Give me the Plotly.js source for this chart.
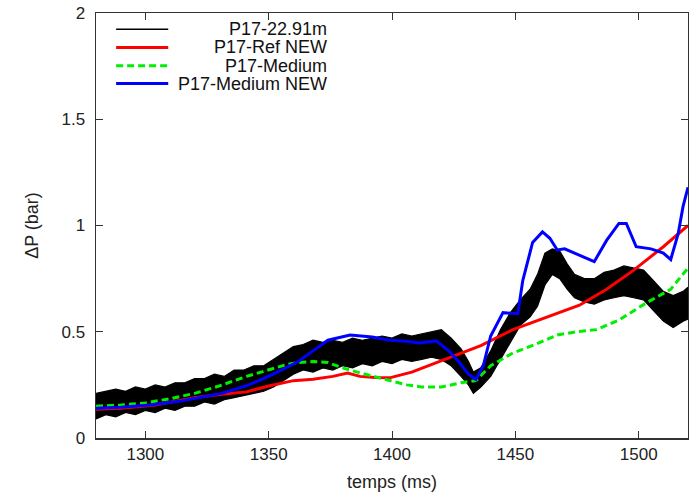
<!DOCTYPE html>
<html>
<head>
<meta charset="utf-8">
<script src="https://cdn.plot.ly/plotly-3.0.1.min.js"></script>
<style>html,body{margin:0;padding:0;background:#fff;}#chart{width:689px;height:494px;}</style>
</head>
<body>
<div id="chart"></div>
<script>
const measT = [1280,1284,1288,1292,1296,1300,1304,1308,1312,1316,1320,1324,1328,1332,1336,1340,1344,1348,1352,1356,1360,1364,1368,1372,1376,1380,1384,1388,1392,1396,1400,1404,1408,1412,1416,1420,1424,1428,1431,1433,1436,1440,1444,1448,1452,1456,1459,1462,1465,1468,1471,1474,1478,1482,1486,1490,1494,1498,1502,1506,1510,1514,1518,1520];
const measLo = [0.09,0.11,0.10,0.12,0.11,0.13,0.12,0.14,0.13,0.15,0.15,0.17,0.16,0.18,0.19,0.20,0.21,0.22,0.24,0.27,0.30,0.32,0.31,0.33,0.32,0.34,0.33,0.35,0.34,0.36,0.35,0.37,0.36,0.37,0.38,0.37,0.34,0.29,0.25,0.21,0.24,0.29,0.37,0.45,0.53,0.57,0.62,0.72,0.77,0.75,0.70,0.66,0.64,0.63,0.65,0.66,0.67,0.66,0.65,0.60,0.55,0.52,0.55,0.56];
const measHi = [0.21,0.22,0.23,0.22,0.24,0.23,0.25,0.24,0.26,0.26,0.28,0.28,0.30,0.29,0.32,0.32,0.34,0.34,0.37,0.40,0.43,0.44,0.46,0.45,0.46,0.45,0.47,0.46,0.47,0.48,0.47,0.49,0.48,0.49,0.50,0.51,0.47,0.42,0.36,0.31,0.33,0.41,0.51,0.59,0.65,0.70,0.77,0.87,0.89,0.88,0.82,0.77,0.75,0.75,0.78,0.79,0.81,0.80,0.79,0.74,0.69,0.67,0.69,0.71];

// P17-Ref NEW (red)
const refT = [1280,1290,1304,1320,1330,1341,1350,1360,1368,1376,1382,1387,1393,1399,1408,1418,1424,1430,1436,1449,1463,1476,1487,1498,1510,1520];
const refP = [0.135,0.14,0.155,0.19,0.205,0.217,0.245,0.27,0.277,0.29,0.306,0.29,0.285,0.283,0.31,0.355,0.38,0.41,0.435,0.51,0.57,0.625,0.70,0.79,0.90,1.0];

// P17-Medium (green dashed)
const medT = [1280,1290,1300,1310,1320,1330,1341,1350,1357,1362,1368,1374,1380,1386,1393,1399,1406,1412,1420,1428,1434,1440,1449,1458,1467,1475,1483,1492,1503,1513,1520];
const medP = [0.15,0.155,0.165,0.185,0.21,0.245,0.29,0.32,0.345,0.355,0.36,0.355,0.33,0.31,0.29,0.27,0.25,0.24,0.24,0.26,0.27,0.34,0.40,0.44,0.485,0.50,0.51,0.555,0.635,0.70,0.80];

// P17-Medium NEW (blue)
const medNewT = [1280,1290,1302,1315,1331,1342,1350,1356,1362,1368,1374,1383,1392,1399,1406,1411,1418,1423,1427,1431,1434,1437,1440,1445,1451,1453,1457,1461,1464,1467,1470,1474,1478,1482,1487,1492,1495,1499,1505,1510,1513,1516,1518,1520];
const medNewP = [0.14,0.145,0.155,0.175,0.21,0.25,0.29,0.325,0.36,0.41,0.46,0.485,0.475,0.46,0.455,0.447,0.457,0.41,0.36,0.30,0.275,0.34,0.48,0.59,0.585,0.74,0.92,0.97,0.94,0.885,0.89,0.87,0.85,0.83,0.93,1.01,1.01,0.90,0.89,0.87,0.84,0.96,1.09,1.18];

const names = ['P17-22.91m','P17-Ref NEW','P17-Medium','P17-Medium NEW'];
const colors = ['#000000','#ff0000','#00ee00','#0000ff'];
const widths = [1.5,3,3,3];
const dashes = ['solid','solid','7px,4px','solid'];

const traces = [
  {x: measT, y: measLo, mode:'lines', line:{color:colors[0], width:1.2}, name:names[0], showlegend:false},
  {x: measT, y: measHi, mode:'lines', line:{color:colors[0], width:1.2}, fill:'tonexty', fillcolor:colors[0], name:names[0], showlegend:false},
  {x: refT, y: refP, mode:'lines', line:{color:colors[1], width:widths[1]}, name:names[1], showlegend:false},
  {x: medT, y: medP, mode:'lines', line:{color:colors[2], width:widths[2], dash:dashes[2]}, name:names[2], showlegend:false},
  {x: medNewT, y: medNewP, mode:'lines', line:{color:colors[3], width:widths[3]}, name:names[3], showlegend:false}
];

// Key drawn in the gnuplot style: sample line on the left, label right-aligned
const keyRowsY = [0.962, 0.919, 0.876, 0.834];
const keyFont = {family:'Liberation Sans, Arial, sans-serif', size:18, color:'#111'};
const shapes = names.map((n,i)=>({type:'line', xref:'paper', yref:'paper', x0:0.034, x1:0.122, y0:keyRowsY[i], y1:keyRowsY[i],
  line:{color:colors[i], width:widths[i], dash:dashes[i]}}));
const annotations = names.map((n,i)=>({xref:'paper', yref:'paper', x:0.393, y:keyRowsY[i], xanchor:'right', yanchor:'middle',
  text:n, showarrow:false, font:keyFont}));

const tickFont = {family:'Liberation Sans, Arial, sans-serif', size:17, color:'#222'};
const titleFont = {family:'Liberation Sans, Arial, sans-serif', size:18, color:'#222'};
const layout = {
  width:689, height:494,
  margin:{l:96, r:1, t:13, b:56, pad:0},
  paper_bgcolor:'#fff', plot_bgcolor:'#fff',
  showlegend:false,
  shapes: shapes, annotations: annotations,
  xaxis:{range:[1280,1520], tickvals:[1300,1350,1400,1450,1500], ticks:'inside', ticklen:7, tickcolor:'#333',
         showline:true, linecolor:'#333', linewidth:1.5, mirror:'ticks', showgrid:false, zeroline:false,
         tickfont:tickFont, title:{text:'temps (ms)', font:titleFont, standoff:12}},
  yaxis:{range:[0,2], tickvals:[0,0.5,1,1.5,2], ticktext:['0','0.5','1','1.5','2'], ticks:'inside', ticklen:7, tickcolor:'#333',
         showline:true, linecolor:'#333', linewidth:1.5, mirror:'ticks', showgrid:false, zeroline:false,
         ticklabelstandoff:6,
         tickfont:tickFont, title:{text:'ΔP (bar)', font:titleFont, standoff:18}}
};

Plotly.newPlot('chart', traces, layout, {staticPlot:true, displayModeBar:false});
</script>
</body>
</html>
